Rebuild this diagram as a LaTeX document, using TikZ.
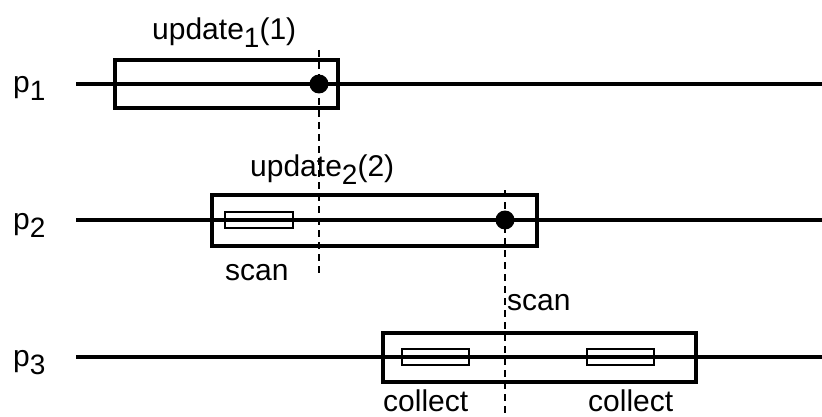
\documentclass[tikz,border=0pt]{standalone}
\usepackage{fontspec}
\setmainfont{Liberation Sans}
\begin{document}
\begin{tikzpicture}[x=1pt,y=-1pt,
  proc/.style={line width=3.7pt},
  opbox/.style={draw,line width=3.4pt},
  subbox/.style={draw,line width=2.8pt},
  lin/.style={draw,line width=1.5pt,dash pattern=on 7pt off 5pt},
  evt/.style={circle,fill=black,inner sep=0pt,minimum size=19pt},
  lbl/.style={anchor=base west,inner sep=0pt,font=\fontsize{30}{30}\selectfont}]
\useasboundingbox (0,0) rectangle (822,417);
\newcommand{\dsub}[1]{\raisebox{-8pt}{\fontsize{28}{28}\selectfont #1}}
% process labels
\node[lbl] (p1) at (13,93) {p\dsub{1}};
\node[lbl] (p2) at (13,229) {p\dsub{2}};
\node[lbl] (p3) at (13,366) {p\dsub{3}};
% process lines
\coordinate (l1s) at (76,84); \coordinate (l1e) at (822,84);
\coordinate (l2s) at (76,220); \coordinate (l2e) at (822,220);
\coordinate (l3s) at (76,357); \coordinate (l3e) at (822,357);
\draw[proc] (l1s) -- (l1e);
\draw[proc] (l2s) -- (l2e);
\draw[proc] (l3s) -- (l3e);
% operation boxes
\draw[opbox] (115,60) rectangle (338,108);
\draw[opbox] (212,195) rectangle (537,246);
\draw[opbox] (383,333) rectangle (696,382);
\draw[subbox] (225,212) rectangle (293,228);
\draw[subbox] (402,349) rectangle (469,365);
\draw[subbox] (587,349) rectangle (654,365);
% linearization lines
\coordinate (d1t) at (319,50); \coordinate (d1b) at (319,275);
\coordinate (d2t) at (505,190); \coordinate (d2b) at (505,417);
\draw[lin] (d1t) -- (d1b);
\draw[lin] (d2t) -- (d2b);
\node[evt] (e1) at (319,84) {};
\node[evt] (e2) at (505,220) {};
% texts
\node[lbl] (u1) at (152,40) {update\dsub{1}(1)};
\node[lbl] (u2) at (250,176) {update\dsub{2}(2)};
\node[lbl] (s1) at (225,280) {scan};
\node[lbl] (s2) at (507,310) {scan};
\node[lbl] (c1) at (383,411) {collect};
\node[lbl] (c2) at (588,411) {collect};
\end{tikzpicture}
\end{document}
